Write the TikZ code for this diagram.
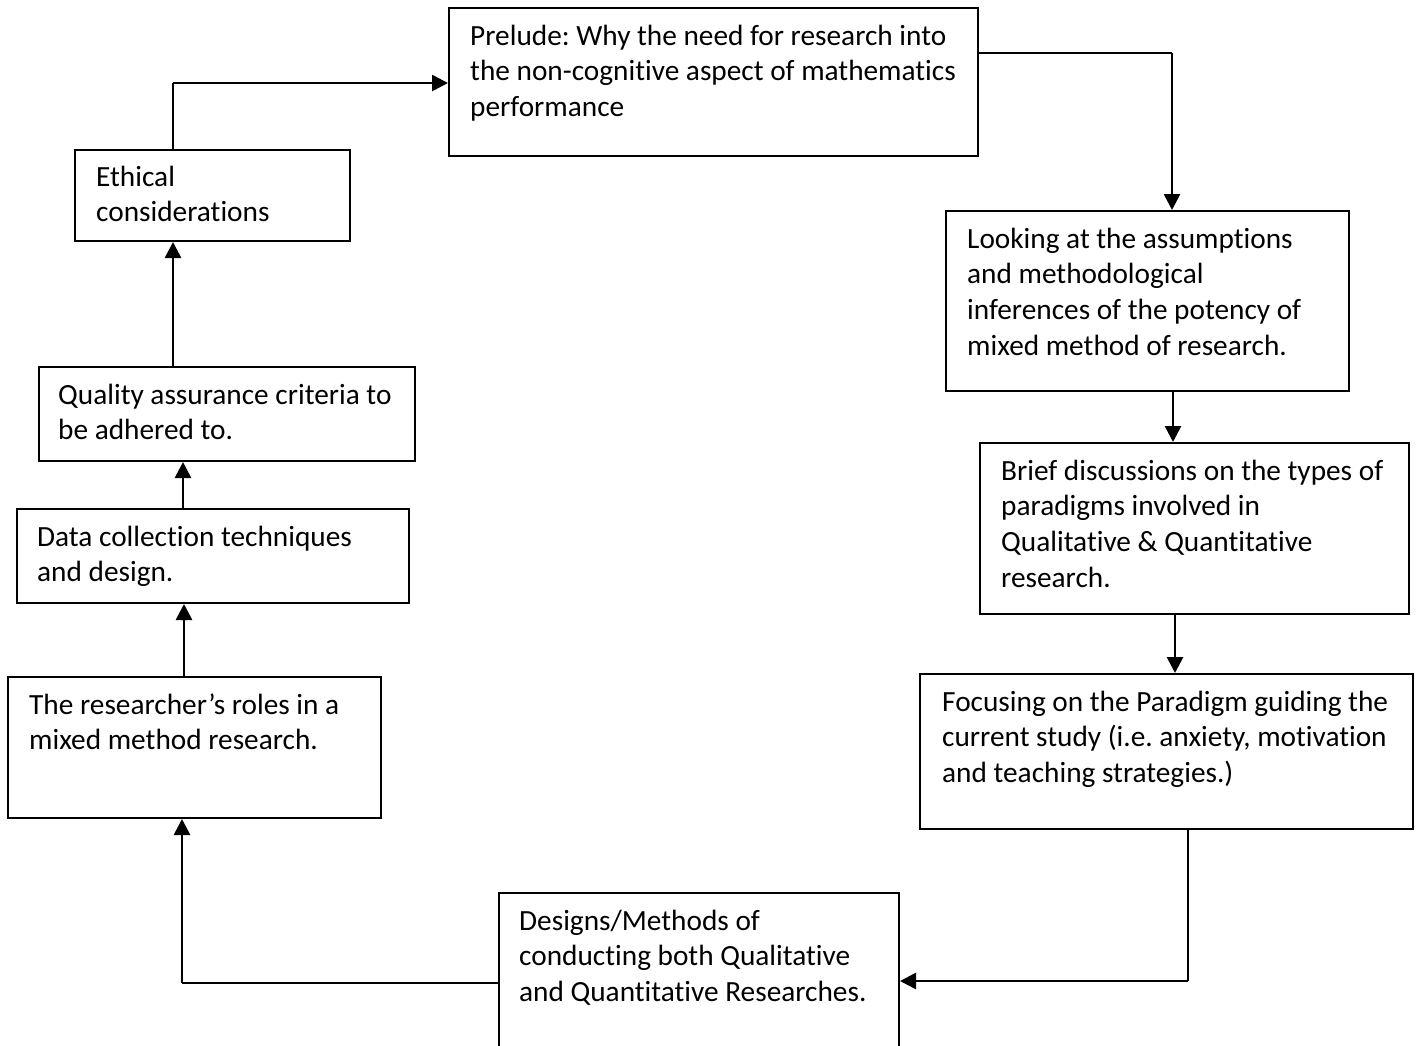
\documentclass[tikz,border=0pt]{standalone}
\usepackage{fontspec}
\setmainfont{Carlito}[Ligatures={NoCommon,NoRare,NoContextual}]
\usetikzlibrary{arrows.meta}
\frenchspacing
\begin{document}
\begin{tikzpicture}[x=1pt,y=-1pt,
  box/.style={draw=black, line width=2pt, inner sep=0pt, anchor=north west},
  txt/.style={anchor=base west, inner sep=0pt, font=\fontsize{29.3}{35.8}\selectfont},
  arr/.style={line width=2.7pt, -{Triangle[length=16pt,width=16pt]}},
  thinline/.style={line width=1.3pt}]
\useasboundingbox (0,0) rectangle (1418,1045);
\clip (0,0) rectangle (1418,1045);
\fill[white] (0,0) rectangle (1418,1045);

% boxes
\node[box, minimum width=529pt, minimum height=148pt] (prelude) at (448,7) {};
\node[box, minimum width=275pt, minimum height=91pt] (ethical) at (74,149) {};
\node[box, minimum width=403pt, minimum height=180pt] (looking) at (945,210) {};
\node[box, minimum width=376pt, minimum height=94pt] (quality) at (38,366) {};
\node[box, minimum width=429pt, minimum height=171pt] (brief) at (979,442) {};
\node[box, minimum width=392pt, minimum height=94pt] (data) at (16,508) {};
\node[box, minimum width=493pt, minimum height=155pt] (focusing) at (919,673) {};
\node[box, minimum width=373pt, minimum height=141pt] (researcher) at (7,676) {};
\node[box, minimum width=400pt, minimum height=180pt] (designs) at (498,892) {};

% texts
\node[txt] (preludeT) at (470,45) {\vtop{\hbox{Prelude: Why the need for research into}\hbox{the non-cognitive aspect of mathematics}\hbox{performance}}};
\node[txt] (ethicalT) at (96,186) {\vtop{\hbox{Ethical}\hbox{considerations}}};
\node[txt] (lookingT) at (967,248) {\vtop{\hbox{Looking at the assumptions}\hbox{and methodological}\hbox{inferences of the potency of}\hbox{mixed method of research.}}};
\node[txt] (qualityT) at (58,404) {\vtop{\hbox{Quality assurance criteria to}\hbox{be adhered to.}}};
\node[txt] (briefT) at (1001,480) {\vtop{\hbox{Brief discussions on the types of}\hbox{paradigms involved in}\hbox{Qualitative \& Quantitative}\hbox{research.}}};
\node[txt] (dataT) at (37,546) {\vtop{\hbox{Data collection techniques}\hbox{and design.}}};
\node[txt] (focusingT) at (942,711) {\vtop{\hbox{Focusing on the Paradigm guiding the}\hbox{current study (i.e. anxiety, motivation}\hbox{and teaching strategies.)}}};
\node[txt] (researcherT) at (29,714) {\vtop{\hbox{The researcher’s roles in a}\hbox{mixed method research.}}};
\node[txt] (designsT) at (519,930) {\vtop{\hbox{Designs/Methods of}\hbox{conducting both Qualitative}\hbox{and Quantitative Researches.}}};

% connectors
\coordinate (c1) at (173,83);
\draw[thinline] (c1 |- ethical.north) -- (c1);
\draw[arr] (c1) -- (c1 -| prelude.west);

\coordinate (c2) at (1172,53);
\draw[thinline] (c2 -| prelude.east) -- (c2);
\draw[arr] (c2) -- (c2 |- looking.north);

\coordinate (x3) at (1173,0);
\draw[arr] (x3 |- looking.south) -- (x3 |- brief.north);
\coordinate (x4) at (1175,0);
\draw[arr] (x4 |- brief.south) -- (x4 |- focusing.north);

\coordinate (c5) at (1188,981);
\draw[thinline] (c5 |- focusing.south) -- (c5);
\draw[arr] (c5) -- (c5 -| designs.east);

\coordinate (c6) at (182,983);
\draw[thinline] (c6 -| designs.west) -- (c6);
\draw[arr] (c6) -- (c6 |- researcher.south);

\coordinate (x7) at (184,0);
\draw[arr] (x7 |- researcher.north) -- (x7 |- data.south);
\coordinate (x8) at (183,0);
\draw[arr] (x8 |- data.north) -- (x8 |- quality.south);
\coordinate (x9) at (173,0);
\draw[arr] (x9 |- quality.north) -- (x9 |- ethical.south);
\end{tikzpicture}
\end{document}
